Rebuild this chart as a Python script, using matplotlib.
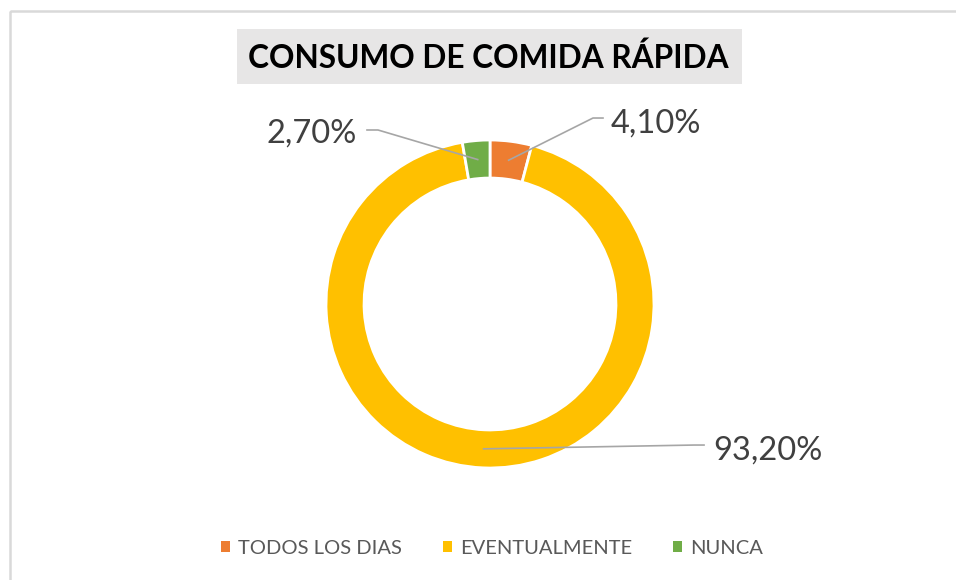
import numpy as np
import matplotlib
matplotlib.use("Agg")
import matplotlib.pyplot as plt
from matplotlib.patches import Rectangle, Patch

plt.rcParams.update({
    "font.family": ["Lato", "DejaVu Sans"],
})

# data
categories = ['TODOS LOS DIAS', 'EVENTUALMENTE', 'NUNCA']
values = [4.1, 93.2, 2.7]
labels = ['4,10%', '93,20%', '2,70%']
colors = ['#ED7D31', '#FFC000', '#70AD47']

W, H = 956, 580


def fx(px):
    return px / W


def fy(py):
    return 1 - py / H


def make_donut():
    fig = plt.figure(figsize=(W / 100, H / 100), dpi=100)

    # chart border (light gray, runs off the right/bottom of the image)
    fig.patches.append(Rectangle((fx(10), fy(11)), 2, -2, transform=fig.transFigure,
                                 fill=False, edgecolor='#D9D9D9', linewidth=1.8))

    # title with gray box
    fig.patches.append(Rectangle((fx(237), fy(84)), (742 - 237) / W, 55 / H,
                                 transform=fig.transFigure, facecolor='#E7E6E6',
                                 edgecolor='none'))
    fig.text(fx(488), fy(68), 'CONSUMO DE COMIDA RÁPIDA', ha='center', va='baseline',
             fontsize=22.8, fontweight='bold', color='#000000')

    # donut: center (490, 304) px, radius 164 px
    ax = fig.add_axes([fx(326), fy(304 + 164), 328 / W, 328 / H])
    ring = 0.232
    wedges, _ = ax.pie(values, colors=colors, startangle=90, counterclock=False,
                       radius=1, wedgeprops=dict(width=ring, edgecolor='white', linewidth=2))
    ax.set_xlim(-1, 1)
    ax.set_ylim(-1, 1)
    ax.axis('off')

    # label layout (axes data units): text anchor, elbow, line end near text
    label_layout = [
        ((0.738, 1.043), (0.628, 1.134), (0.689, 1.134)),
        ((1.360, -0.951), (1.245, -0.860), (1.305, -0.860)),
        ((-1.360, 0.982), (-0.683, 1.061), (-0.750, 1.061)),
    ]
    r_mid = 1 - ring / 2
    for w, lab, (txt, elbow, end) in zip(wedges, labels, label_layout):
        ang = np.deg2rad((w.theta1 + w.theta2) / 2)
        start = (r_mid * np.cos(ang), r_mid * np.sin(ang))
        ax.plot([start[0], elbow[0], end[0]], [start[1], elbow[1], end[1]],
                color='#A6A6A6', linewidth=1.2, clip_on=False, zorder=3)
        ax.text(txt[0], txt[1], lab, ha='left', va='baseline', fontsize=23.5,
                color='#404040', clip_on=False)

    handles = [Patch(facecolor=c, edgecolor='none') for c in colors]
    fig.legend(handles, categories, loc='center', bbox_to_anchor=(fx(492), fy(548)),
               ncol=3, frameon=False, fontsize=14.5, labelcolor='#595959',
               handlelength=0.45, handleheight=0.45, handletextpad=0.4,
               columnspacing=2.05)

    plt.savefig('out.png', dpi=100)


if __name__ == "__main__":
    make_donut()
